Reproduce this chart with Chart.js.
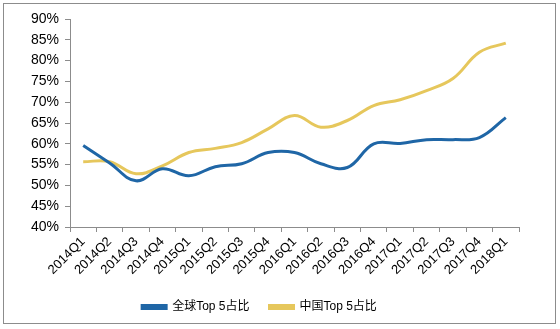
<!DOCTYPE html>
<html>
<head>
<meta charset="utf-8">
<script src="https://cdn.jsdelivr.net/npm/chart.js@4"></script>
<style>
  body { margin: 0; background: #fff; }
  #wrap { position: relative; width: 560px; height: 329px; }
  #frame { position: absolute; left: 3px; top: 3px; width: 553px; height: 321px; border: 1px solid #8c8c8c; box-sizing: border-box; pointer-events: none; }
</style>
</head>
<body>
<div id="wrap">
  <canvas id="chart" width="560" height="329"></canvas>
  <div id="frame"></div>
</div>
<script>
// quarters on the x axis
const quarters = ["2014Q1", "2014Q2", "2014Q3", "2014Q4", "2015Q1", "2015Q2", "2015Q3", "2015Q4",
    "2016Q1", "2016Q2", "2016Q3", "2016Q4", "2017Q1", "2017Q2", "2017Q3", "2017Q4", "2018Q1"];

// share of the top 5 makers, in %
const globalTop5 = [59.6, 55.4, 51.1, 54.0, 52.3, 54.5, 55.2, 57.9, 57.9, 55.2, 54.3, 60.0, 60.1, 61.0, 61.0, 61.5, 66.3];
const chinaTop5 = [55.7, 55.7, 52.8, 54.7, 57.9, 58.9, 60.3, 63.6, 66.8, 64.0, 65.6, 69.2, 70.6, 72.8, 75.7, 82.0, 84.2];

const seriesNames = ["全球Top 5占比", "中国Top 5占比"];

const fontFamily = "'Liberation Sans', Arial, 'Noto Sans CJK SC', sans-serif";
const axisColor = "#8c8c8c";

new Chart(document.getElementById("chart"), {
    type: "line",
    data: {
        labels: quarters,
        datasets: [
            {
                label: seriesNames[0],
                data: globalTop5,
                borderColor: "#1f66a6",
                backgroundColor: "#1f66a6",
                borderWidth: 3,
                tension: 0.4,
                pointRadius: 0,
            },
            {
                label: seriesNames[1],
                data: chinaTop5,
                borderColor: "#e6c75c",
                backgroundColor: "#e6c75c",
                borderWidth: 3,
                tension: 0.4,
                pointRadius: 0,
            },
        ],
    },
    options: {
        responsive: false,
        animation: false,
        layout: { padding: { top: 19, right: 41, bottom: 6, left: 0 } },
        plugins: {
            tooltip: { enabled: false },
            legend: {
                position: "bottom",
                labels: {
                    boxWidth: 24,
                    boxHeight: 3,
                    padding: 20,
                    color: "#000",
                    font: { family: fontFamily, size: 12 },
                },
            },
        },
        scales: {
            x: {
                offset: true,
                grid: {
                    offset: true,
                    drawOnChartArea: false,
                    drawTicks: true,
                    tickLength: 5,
                    color: axisColor,
                },
                border: { color: axisColor, width: 1 },
                ticks: {
                    color: "#000",
                    minRotation: 45,
                    maxRotation: 45,
                    autoSkip: false,
                    padding: 2,
                    font: { family: fontFamily, size: 13 },
                },
                afterFit: (scale) => { scale.height = 54; },
            },
            y: {
                min: 40,
                max: 90,
                grid: {
                    drawOnChartArea: false,
                    drawTicks: true,
                    tickLength: 5,
                    color: axisColor,
                },
                border: { color: axisColor, width: 1 },
                ticks: {
                    stepSize: 5,
                    autoSkip: false,
                    color: "#000",
                    padding: 6,
                    callback: (v) => v + "%",
                    font: { family: fontFamily, size: 14 },
                },
                afterFit: (scale) => { scale.width = 70; },
            },
        },
    },
});
</script>
</body>
</html>
